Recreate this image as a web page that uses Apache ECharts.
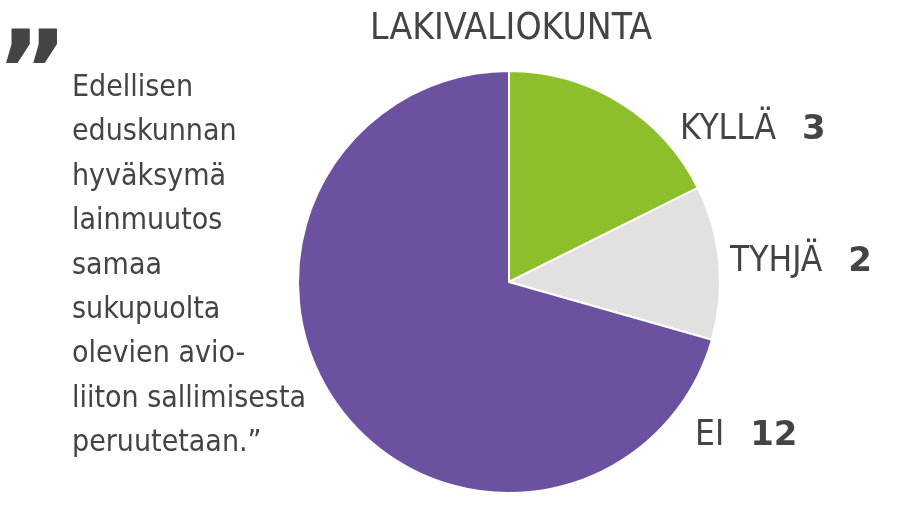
<!DOCTYPE html>
<html><head><meta charset="utf-8">
<script src="https://cdn.jsdelivr.net/npm/echarts@6/dist/echarts.min.js"></script>
<style>html,body{margin:0;padding:0;background:#fff}#c{width:900px;height:506px}</style>
</head><body><div id="c"></div>
<script>
const categories = ['KYLLÄ', 'TYHJÄ', 'EI'];
const values = [3, 2, 12];
const colors = ['#8dbf2d', '#e1e1e1', '#6b51a0'];
const titleText = 'LAKIVALIOKUNTA';
const quoteLines = ['Edellisen', 'eduskunnan', 'hyväksymä', 'lainmuutos', 'samaa', 'sukupuolta', 'olevien avio-', 'liiton sallimisesta', 'peruutetaan.”'];
const labelPos = [[680, 130], [730, 262], [695, 436]];

const FONT = '"Liberation Sans Narrow", "DejaVu Sans Condensed", "Open Sans", sans-serif';
const ink = '#444444';
const chart = echarts.init(document.getElementById('c'));
chart.setOption({
  backgroundColor: '#ffffff',
  animation: false,
  title: {
    text: titleText, left: 506, top: 6, textAlign: 'center',
    textStyle: { fontFamily: FONT, fontSize: 37, fontWeight: 'normal', color: ink }
  },
  graphic: [
    { type: 'text', left: -4, top: 25, style: { text: '”', font: 'bold 110px "DejaVu Sans"', fill: ink } },
    { type: 'text', left: 72, top: 66, style: { text: quoteLines.join('\n'), font: '30px ' + FONT, lineHeight: 44.4, fill: ink } }
  ],
  series: [{
    type: 'pie',
    center: [509, 282],
    radius: ['0%', 211],
    startAngle: 90,
    clockwise: true,
    silent: true,
    itemStyle: { borderColor: '#ffffff', borderWidth: 2 },
    data: categories.map((c, i) => ({ name: c, value: values[i], itemStyle: { color: colors[i] } })),
    label: {
      show: true, position: 'outside',
      formatter: p => '{n|' + p.name + '}{v|' + p.value + '}',
      rich: {
        n: { fontFamily: FONT, fontSize: 35, color: ink },
        v: { fontFamily: '"DejaVu Sans"', fontWeight: 'bold', fontSize: 34, color: ink, padding: [0, 0, 0, 26] }
      }
    },
    labelLine: { show: false },
    labelLayout: p => ({ x: labelPos[p.dataIndex][0], y: labelPos[p.dataIndex][1], align: 'left', verticalAlign: 'middle' })
  }]
});
</script></body></html>
